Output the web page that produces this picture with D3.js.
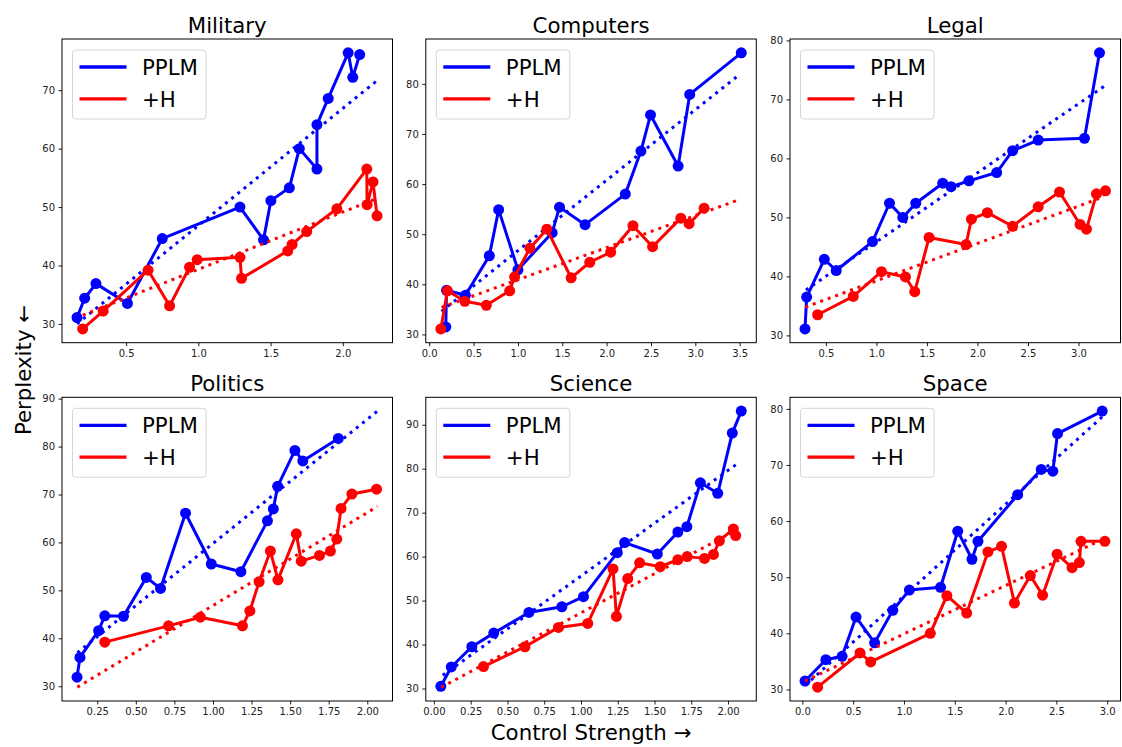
<!DOCTYPE html>
<html>
<head>
<meta charset="utf-8">
<script src="https://cdn.jsdelivr.net/npm/d3@7"></script>
<style>
  body { margin: 0; background: #fff; }
  text { font-family: "DejaVu Sans", sans-serif; }
</style>
</head>
<body>
<script>
// values, [control strength, perplexity]
var militaryPplm = [[0.16,31.1],[0.213,34.4],[0.291,36.9],[0.509,33.5],[0.75,44.6],[1.288,50.0],[1.451,44.4],[1.502,51.1],[1.63,53.3],[1.699,60.0],[1.821,56.5],[1.821,64.1],[1.899,68.6],[2.037,76.4],[2.069,72.2],[2.117,76.1]];
var militaryH = [[0.199,29.15],[0.341,32.2],[0.652,39.2],[0.801,33.1],[0.939,39.7],[0.992,41.0],[1.288,41.4],[1.299,37.8],[1.619,42.5],[1.649,43.6],[1.75,45.8],[1.959,49.7],[2.166,56.5],[2.168,50.4],[2.209,54.3],[2.237,48.5]];
var militaryTrend = [[0.16,30.0],[2.24,71.7]];
var militaryTrendH = [[0.2,31.5],[2.24,51.5]];

var computersPplm = [[0.187,31.5],[0.195,38.8],[0.408,37.8],[0.678,45.7],[0.783,54.9],[1.0,42.9],[1.386,50.3],[1.469,55.4],[1.757,51.9],[2.211,58.0],[2.387,66.6],[2.495,73.8],[2.806,63.6],[2.937,77.9],[3.518,86.2]];
var computersH = [[0.131,31.1],[0.206,38.7],[0.401,36.6],[0.644,35.8],[0.907,38.7],[0.963,41.5],[1.135,47.2],[1.326,51.0],[1.6,41.3],[1.81,44.4],[2.046,46.4],[2.297,51.7],[2.518,47.5],[2.836,53.2],[2.93,52.1],[3.099,55.2]];
var computersTrend = [[0.139,34.6],[3.473,81.5]];
var computersTrendH = [[0.139,35.4],[3.511,57.0]];

var legalPplm = [[0.293,31.1],[0.309,36.5],[0.484,42.9],[0.602,41.0],[0.961,45.9],[1.129,52.4],[1.261,50.0],[1.389,52.4],[1.656,55.8],[1.738,55.2],[1.916,56.2],[2.19,57.6],[2.348,61.3],[2.601,63.1],[3.059,63.4],[3.208,77.9]];
var legalH = [[0.418,33.5],[0.77,36.6],[1.05,40.8],[1.287,39.9],[1.379,37.4],[1.521,46.6],[1.887,45.4],[1.94,49.7],[2.098,50.8],[2.348,48.5],[2.601,51.8],[2.812,54.3],[3.016,48.8],[3.079,48.0],[3.178,54.0],[3.267,54.5]];
var legalTrend = [[0.302,37.7],[3.26,72.3]];
var legalTrendH = [[0.296,34.8],[3.25,53.5]];

var politicsPplm = [[0.119,31.9],[0.138,36.0],[0.259,41.6],[0.299,44.7],[0.42,44.6],[0.568,52.7],[0.66,50.4],[0.822,66.1],[0.989,55.5],[1.181,53.9],[1.353,64.5],[1.391,67.0],[1.419,71.7],[1.531,79.2],[1.582,77.0],[1.812,81.7]];
var politicsH = [[0.299,39.2],[0.712,42.6],[0.918,44.4],[1.191,42.6],[1.239,45.7],[1.299,51.8],[1.372,58.2],[1.421,52.2],[1.54,61.8],[1.572,56.1],[1.69,57.3],[1.761,58.2],[1.802,60.7],[1.83,67.1],[1.9,70.1],[2.06,71.1]];
var politicsTrend = [[0.121,37.0],[2.066,87.4]];
var politicsTrendH = [[0.121,29.8],[2.066,67.5]];

var sciencePplm = [[0.047,30.5],[0.118,34.9],[0.258,39.5],[0.407,42.6],[0.646,47.3],[0.87,48.6],[1.017,50.9],[1.247,60.9],[1.297,63.2],[1.519,60.6],[1.659,65.6],[1.72,66.8],[1.812,76.8],[1.93,74.4],[2.029,88.1],[2.09,93.1]];
var scienceH = [[0.337,35.0],[0.619,39.5],[0.847,43.9],[1.046,44.8],[1.218,57.2],[1.241,46.4],[1.318,55.0],[1.399,58.6],[1.539,57.7],[1.659,59.3],[1.722,60.0],[1.84,59.6],[1.901,60.5],[1.941,63.6],[2.036,66.3],[2.052,64.8]];
var scienceTrend = [[0.06,33.0],[2.07,81.3]];
var scienceTrendH = [[0.05,30.3],[2.05,65.9]];

var spacePplm = [[0.026,31.5],[0.231,35.3],[0.391,35.9],[0.528,42.9],[0.711,38.3],[0.89,44.1],[1.053,47.7],[1.36,48.2],[1.529,58.2],[1.669,53.2],[1.728,56.4],[2.119,64.7],[2.351,69.2],[2.465,68.9],[2.511,75.6],[2.951,79.6]];
var spaceH = [[0.15,30.4],[0.567,36.5],[0.672,34.9],[1.259,40.0],[1.422,46.7],[1.617,43.6],[1.826,54.5],[1.96,55.5],[2.087,45.4],[2.243,50.3],[2.364,46.8],[2.507,54.1],[2.654,51.7],[2.726,52.6],[2.742,56.4],[2.977,56.4]];
var spaceTrend = [[0.026,30.7],[2.983,79.1]];
var spaceTrendH = [[0.026,31.5],[2.879,56.1]];

var titles = ["Military", "Computers", "Legal", "Politics", "Science", "Space"];
var seriesNames = ["PPLM", "+H"];

var xTicks = [
  [0.5, 1.0, 1.5, 2.0],
  [0, 0.5, 1.0, 1.5, 2.0, 2.5, 3.0, 3.5],
  [0.5, 1.0, 1.5, 2.0, 2.5, 3.0],
  [0.25, 0.5, 0.75, 1.0, 1.25, 1.5, 1.75, 2.0],
  [0, 0.25, 0.5, 0.75, 1.0, 1.25, 1.5, 1.75, 2.0],
  [0, 0.5, 1.0, 1.5, 2.0, 2.5, 3.0]
];
var yTicks = [
  [30, 40, 50, 60, 70],
  [30, 40, 50, 60, 70, 80],
  [30, 40, 50, 60, 70, 80],
  [30, 40, 50, 60, 70, 80, 90],
  [30, 40, 50, 60, 70, 80, 90],
  [30, 40, 50, 60, 70, 80]
];
var xDecimals = [1, 1, 1, 2, 2, 1];

var panels = [
  [militaryPplm, militaryH, militaryTrend, militaryTrendH],
  [computersPplm, computersH, computersTrend, computersTrendH],
  [legalPplm, legalH, legalTrend, legalTrendH],
  [politicsPplm, politicsH, politicsTrend, politicsTrendH],
  [sciencePplm, scienceH, scienceTrend, scienceTrendH],
  [spacePplm, spaceH, spaceTrend, spaceTrendH]
];

var width = 1122, height = 747;
var lefts = [62, 425.8, 790], tops = [39, 397.3];
var pw = 330.5, ph = 303.7;
var colors = ["#0000ff", "#ff0000"];

var svg = d3.select("body").append("svg")
  .attr("width", width)
  .attr("height", height);

// matplotlib style 5% margins
function padded(vals) {
  var ext = d3.extent(vals), m = (ext[1] - ext[0]) * 0.05;
  return [ext[0] - m, ext[1] + m];
}

panels.forEach(function(p, i) {
  var left = lefts[i % 3], top = tops[Math.floor(i / 3)];
  var all = p[0].concat(p[1], p[2], p[3]);

  var x = d3.scaleLinear().domain(padded(all.map(d => d[0]))).range([0, pw]);
  var y = d3.scaleLinear().domain(padded(all.map(d => d[1]))).range([ph, 0]);

  var g = svg.append("g").attr("transform", "translate(" + left + "," + top + ")");

  var line = d3.line().x(d => x(d[0])).y(d => y(d[1]));

  // PPLM then +H, each with its dotted trend
  [0, 1].forEach(function(s) {
    g.append("path")
      .datum(p[s])
      .attr("d", line)
      .attr("fill", "none")
      .attr("stroke", colors[s])
      .attr("stroke-width", 3)
      .attr("stroke-linejoin", "round");
    g.selectAll(".dot" + s)
      .data(p[s])
      .enter().append("circle")
      .attr("cx", d => x(d[0]))
      .attr("cy", d => y(d[1]))
      .attr("r", 5.5)
      .attr("fill", colors[s]);
    g.append("path")
      .datum(p[s + 2])
      .attr("d", line)
      .attr("fill", "none")
      .attr("stroke", colors[s])
      .attr("stroke-width", 3)
      .attr("stroke-dasharray", "3,4.95");
  });

  var fmt = d3.format("." + xDecimals[i] + "f");
  var xAxis = g.append("g")
    .attr("transform", "translate(0," + ph + ")")
    .call(d3.axisBottom(x).tickValues(xTicks[i]).tickFormat(fmt).tickSize(3.5).tickPadding(3.5));
  var yAxis = g.append("g")
    .call(d3.axisLeft(y).tickValues(yTicks[i]).tickFormat(d3.format("d")).tickSize(3.5).tickPadding(3.5));
  [xAxis, yAxis].forEach(function(a) {
    a.select(".domain").remove();
    a.selectAll("text").style("font-size", "10px").style("font-family", "DejaVu Sans").attr("fill", "#222");
    a.selectAll("line").attr("stroke", "#000").attr("stroke-width", 0.9);
  });

  g.append("rect")
    .attr("width", pw).attr("height", ph)
    .attr("fill", "none")
    .attr("stroke", "#000")
    .attr("stroke-width", 1);

  g.append("text")
    .attr("x", pw / 2).attr("y", -6.5)
    .attr("text-anchor", "middle")
    .style("font-size", "21.3px")
    .attr("fill", "#000")
    .text(titles[i]);

  // legend
  var lg = g.append("g").attr("transform", "translate(10.5,11)");
  lg.append("rect")
    .attr("width", 133.5).attr("height", 69)
    .attr("rx", 3)
    .attr("fill", "#fff").attr("fill-opacity", 0.8)
    .attr("stroke", "#d6d6d6");
  seriesNames.forEach(function(name, s) {
    var ly = 17 + s * 31.8;
    lg.append("line")
      .attr("x1", 7).attr("x2", 54)
      .attr("y1", ly).attr("y2", ly)
      .attr("stroke", colors[s]).attr("stroke-width", 3.3);
    lg.append("text")
      .attr("x", 69.5).attr("y", ly + 8)
      .style("font-size", "21.3px")
      .attr("fill", "#000")
      .text(name);
  });
});

svg.append("text")
  .attr("x", 591).attr("y", 740)
  .attr("text-anchor", "middle")
  .style("font-size", "21.3px")
  .text("Control Strength \u2192");

svg.append("text")
  .attr("transform", "translate(30.5,370) rotate(-90)")
  .attr("text-anchor", "middle")
  .style("font-size", "21.3px")
  .text("Perplexity \u2190");
</script>
</body>
</html>
